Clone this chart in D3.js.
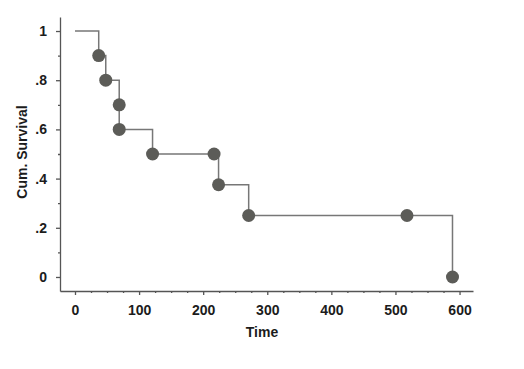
<!DOCTYPE html>
<html>
<head>
<meta charset="utf-8">
<script src="https://cdn.jsdelivr.net/npm/d3@7"></script>
<style>
  body { margin: 0; background: #fff; }
  svg text { font-family: "Liberation Sans", Arial, sans-serif; font-weight: bold; fill: #1c1c1c; }
</style>
</head>
<body>
<svg width="524" height="369"></svg>
<script>
// survival events (deaths and censored cases)
var eventTimes    = [37, 48, 69, 69, 121, 217, 224, 271, 518, 589];
var eventSurvival = [0.9, 0.8, 0.7, 0.6, 0.5, 0.5, 0.375, 0.25, 0.25, 0];
var xTicks = [0, 100, 200, 300, 400, 500, 600];
var yTicks = [0, 0.2, 0.4, 0.6, 0.8, 1];
var yTickLabels = ["0", ".2", ".4", ".6", ".8", "1"];

var svg = d3.select("svg");

var x = d3.scaleLinear().domain([-23.4, 621]).range([60, 473]),
    y = d3.scaleLinear().domain([-0.057, 1.057]).range([291, 17]);

var axisColor = "#555";

// X axis
var xAxis = svg.append("g")
    .attr("class", "x_axis")
    .attr("transform", "translate(0,291)")
    .call(d3.axisBottom(x).tickValues(xTicks).tickSize(4).tickSizeOuter(0).tickPadding(10));
svg.append("g")
    .attr("transform", "translate(0,291)")
    .call(d3.axisBottom(x).tickValues(d3.range(0, 601, 25).filter(function(d) { return d % 100 != 0; }))
      .tickSize(2).tickFormat(""))
    .select(".domain").remove();

// Y axis
svg.append("g")
    .attr("class", "y_axis")
    .attr("transform", "translate(60,0)")
    .call(d3.axisLeft(y).tickValues(yTicks).tickSize(4).tickSizeOuter(0).tickPadding(9)
      .tickFormat(function(d, i) { return yTickLabels[i]; }));
svg.append("g")
    .attr("transform", "translate(60,0)")
    .call(d3.axisLeft(y).tickValues([0.1, 0.3, 0.5, 0.7, 0.9]).tickSize(2).tickFormat(""))
    .select(".domain").remove();

svg.selectAll(".domain, .tick line").attr("stroke", axisColor).attr("stroke-width", 1.3);
svg.selectAll(".tick text").style("font-size", "14px");

// axis titles
svg.append("text")
    .attr("x", 262)
    .attr("y", 337)
    .attr("text-anchor", "middle")
    .style("font-size", "14px")
    .text("Time");

svg.append("text")
    .attr("transform", "translate(27,152) rotate(-90)")
    .attr("text-anchor", "middle")
    .style("font-size", "14px")
    .text("Cum. Survival");

// step curve
var stepData = [[0, 1]].concat(eventTimes.map(function(t, i) { return [t, eventSurvival[i]]; }));

svg.append("path")
    .datum(stepData)
    .attr("fill", "none")
    .attr("stroke", "#777")
    .attr("stroke-width", 1.5)
    .attr("d", d3.line()
      .x(function(d) { return x(d[0]); })
      .y(function(d) { return y(d[1]); })
      .curve(d3.curveStepAfter));

// markers
svg.selectAll(".dot")
    .data(stepData.slice(1))
  .enter().append("circle")
    .attr("class", "dot")
    .attr("cx", function(d) { return x(d[0]); })
    .attr("cy", function(d) { return y(d[1]); })
    .attr("r", 6.5)
    .attr("fill", "#5c5c58");
</script>
</body>
</html>
